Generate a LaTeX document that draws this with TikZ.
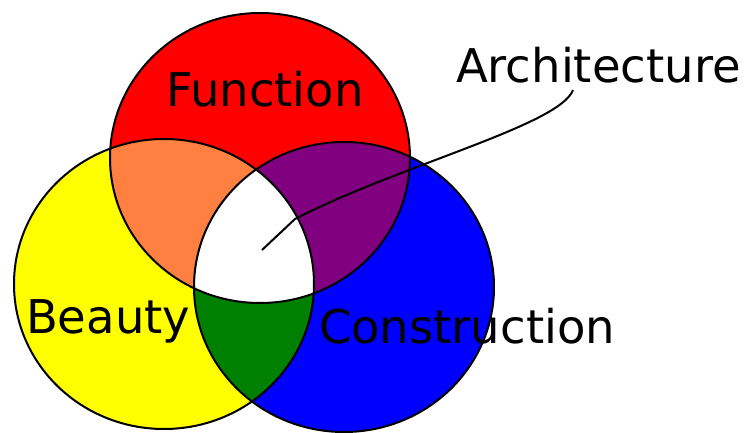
\documentclass[tikz,border=0pt]{standalone}
\usepackage{fontspec}
\setmainfont{DejaVu Sans}
\definecolor{rd}{RGB}{255,0,0}
\definecolor{yel}{RGB}{255,255,0}
\definecolor{bl}{RGB}{0,0,255}
\definecolor{orng}{RGB}{255,128,64}
\definecolor{purp}{RGB}{128,0,128}
\definecolor{grn}{RGB}{0,128,0}
\newcommand{\redset}{(260,158) ellipse [x radius=150pt,y radius=145pt]}
\newcommand{\yelset}{(164,284) ellipse [x radius=150pt,y radius=145pt]}
\newcommand{\bluset}{(344,287) ellipse [x radius=150pt,y radius=145pt]}

\begin{document}
\begin{tikzpicture}[x=1pt,y=-1pt,line width=2pt,
  lbl/.style={anchor=base west,inner sep=0pt,font=\fontsize{46.5}{50}\selectfont}]
\useasboundingbox (0,0) rectangle (750,433);
\fill[rd] \redset;
\fill[yel] \yelset;
\fill[bl] \bluset;
\begin{scope}
\clip \yelset; \fill[grn] \bluset;
\end{scope}
\begin{scope}
\clip \redset; \fill[orng] \yelset; \fill[purp] \bluset;
\clip \yelset; \fill[white] \bluset;
\end{scope}
\draw \redset \yelset \bluset;
\node[lbl] (fn) at (165,107) {Function};
\node[lbl] (bty) at (25,333) {Beauty};
\node[lbl] (cons) at (318,343) {Construction};
\node[lbl] (arch) at (455,83) {Architecture};
\coordinate (tip) at (262,250);
\draw ([shift={(118,7)}]arch.base west) .. controls (560,125) and (400,165) .. (295,219) -- (tip);
\end{tikzpicture}
\end{document}
